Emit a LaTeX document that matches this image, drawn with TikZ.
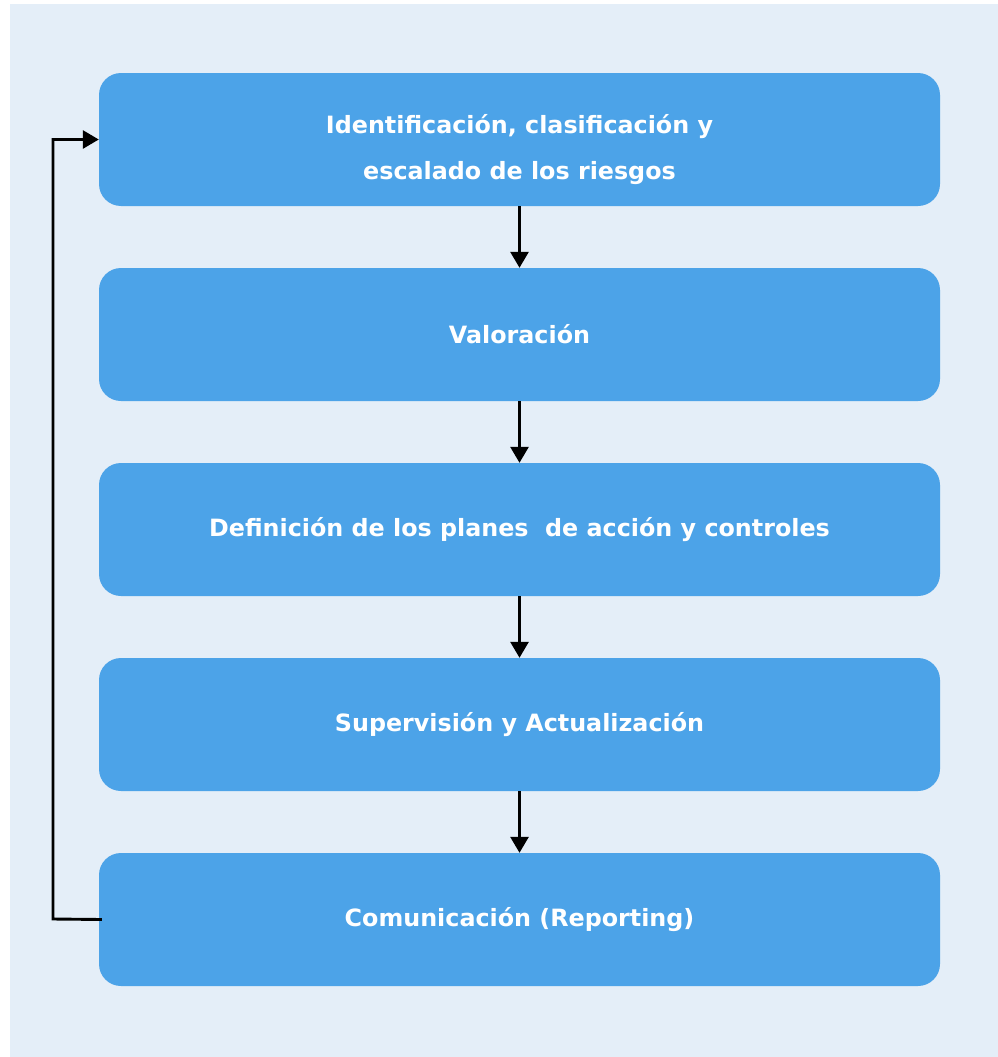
\documentclass[tikz,border=0pt]{standalone}
\usepackage{fontspec}
\setmainfont{DejaVu Sans}
\usetikzlibrary{arrows.meta}
\definecolor{bgblue}{HTML}{E4EEF8}
\definecolor{boxblue}{HTML}{4CA3E8}
\begin{document}
\begin{tikzpicture}[x=1pt,y=-1pt,
  stagebox/.style={fill=boxblue,draw=none,rounded corners=22pt,minimum width=841pt,minimum height=133pt,
    inner sep=0pt,text=white,font=\bfseries\fontsize{23.8}{46}\selectfont,align=center},
  flow/.style={draw=black,line width=2.9pt,-{Triangle[width=18pt,length=16pt]}}]
\useasboundingbox (0,0) rectangle (998,1057);
\fill[bgblue] (10,4) rectangle (998,1057);
\node[stagebox] (s1) at (519.5,139.5) {\rule{0pt}{39pt}Identificación, clasificación y\\escalado de los riesgos};
\node[stagebox] (s2) at (519.5,334.5) {Valoración};
\node[stagebox] (s3) at (519.5,529.5) {Definición de los planes\ \ de acción y controles};
\node[stagebox] (s4) at (519.5,724.5) {Supervisión y Actualización};
\node[stagebox] (s5) at (519.5,919.5) {Comunicación (Reporting)};
\draw[flow] (s1.south) -- (s2.north);
\draw[flow] (s2.south) -- (s3.north);
\draw[flow] (s3.south) -- (s4.north);
\draw[flow] (s4.south) -- (s5.north);
\coordinate (lb) at (53,919);
\coordinate (lt) at (53,139.5);
\draw[flow] ([xshift=3pt]s5.west) -- (lb) -- (lt) -- (s1.west);
\end{tikzpicture}
\end{document}
